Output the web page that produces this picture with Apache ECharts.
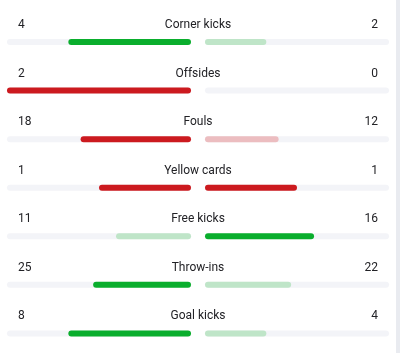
<!DOCTYPE html>
<html>
<head>
<meta charset="utf-8">
<script src="https://cdn.jsdelivr.net/npm/echarts@6/dist/echarts.min.js"></script>
<style>
html, body { margin: 0; padding: 0; background: #fff; }
#chart { width: 400px; height: 353px; }
.scroll { position: absolute; left: 396px; top: 0; width: 4px; height: 353px; background: #e9ebf0; }
</style>
</head>
<body>
<div id="chart"></div>
<div class="scroll"></div>
<script>
const categories = ['Corner kicks', 'Offsides', 'Fouls', 'Yellow cards', 'Free kicks', 'Throw-ins', 'Goal kicks']
const homeValues = [4, 2, 18, 1, 11, 25, 8]
const awayValues = [2, 0, 12, 1, 16, 22, 4]
// stats where the bigger number is the bad one (drawn red)
const lowerIsBetter = [false, true, true, true, false, false, false]

const GREEN = '#0aae2d'
const GREEN_LIGHT = '#bfe5c8'
const RED = '#cc1a1f'
const RED_LIGHT = '#ecbdc0'
const TRACK = '#f3f4f8'
const TEXT = '#222226'

const share = (a, b) => (a + b === 0 ? 0 : a / (a + b))
const homeShare = homeValues.map((v, i) => share(v, awayValues[i]))
const awayShare = awayValues.map((v, i) => share(v, homeValues[i]))

function barColor(mine, other, i) {
    const strong = mine >= other
    if (lowerIsBetter[i]) return strong ? RED : RED_LIGHT
    return strong ? GREEN : GREEN_LIGHT
}

const chart = echarts.init(document.getElementById('chart'))

const font = { fontFamily: 'Roboto', fontSize: 12, color: TEXT }
const barBase = { type: 'bar', barWidth: 6, silent: true }

const option = {
    animation: false,
    backgroundColor: '#fff',
    grid: [
        { left: 7, width: 184, top: 17.7, height: 340, outerBoundsMode: 'none' },
        { left: 205, width: 184, top: 17.7, height: 340, outerBoundsMode: 'none' }
    ],
    xAxis: [
        { gridIndex: 0, type: 'value', min: 0, max: 1, show: false },
        { gridIndex: 1, type: 'value', min: 0, max: 1, show: false }
    ],
    yAxis: [
        { gridIndex: 0, type: 'category', data: categories, inverse: true, show: false },
        { gridIndex: 1, type: 'category', data: categories, inverse: true, show: false }
    ],
    series: [
        // left track + home value
        {
            ...barBase, xAxisIndex: 0, yAxisIndex: 0, z: 1,
            data: categories.map(() => 1),
            itemStyle: { color: TRACK, borderRadius: 3 },
            label: {
                show: true, ...font, position: [11, -14], align: 'left', verticalAlign: 'middle',
                formatter: p => String(homeValues[p.dataIndex])
            }
        },
        // spacer so home bar sits against the centre
        {
            ...barBase, xAxisIndex: 0, yAxisIndex: 0, stack: 'home', barGap: '-100%', z: 2,
            data: homeShare.map(s => 1 - s),
            itemStyle: { color: 'rgba(0,0,0,0)' }
        },
        {
            ...barBase, xAxisIndex: 0, yAxisIndex: 0, stack: 'home', barGap: '-100%', z: 3,
            data: homeShare.map((s, i) => ({
                value: s,
                itemStyle: { color: barColor(homeValues[i], awayValues[i], i), borderRadius: 3 }
            }))
        },
        // right track + away value
        {
            ...barBase, xAxisIndex: 1, yAxisIndex: 1, z: 1,
            data: categories.map(() => 1),
            itemStyle: { color: TRACK, borderRadius: 3 },
            label: {
                show: true, ...font, position: ['100%', -14], offset: [-11, 0], align: 'right', verticalAlign: 'middle',
                formatter: p => String(awayValues[p.dataIndex])
            }
        },
        // stat name, centred between the two tracks
        {
            ...barBase, xAxisIndex: 1, yAxisIndex: 1, barGap: '-100%', z: 2,
            data: categories.map(() => 1),
            itemStyle: { color: 'rgba(0,0,0,0)' },
            label: {
                show: true, ...font, position: [-7, -14], align: 'center', verticalAlign: 'middle',
                formatter: p => categories[p.dataIndex]
            }
        },
        {
            ...barBase, xAxisIndex: 1, yAxisIndex: 1, barGap: '-100%', z: 3,
            data: awayShare.map((s, i) => ({
                value: s,
                itemStyle: { color: barColor(awayValues[i], homeValues[i], i), borderRadius: 3 }
            }))
        }
    ]
}

chart.setOption(option)
</script>
</body>
</html>
